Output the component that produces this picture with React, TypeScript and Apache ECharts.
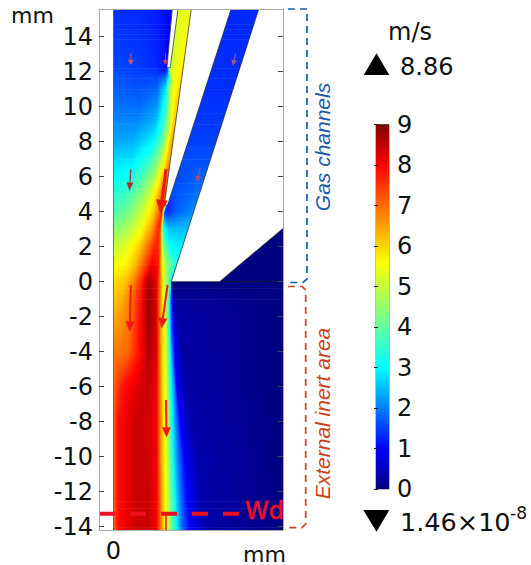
import React, { useEffect, useRef } from "react";
import * as echarts from "echarts";

const yTicks = [-14, -12, -10, -8, -6, -4, -2, 0, 2, 4, 6, 8, 10, 12, 14];
const xTicks = [0];
const speedTicks = [0, 1, 2, 3, 4, 5, 6, 7, 8, 9];
const maxLabel = "8.86";
const minLabel = "1.46×10";
const minExponent = "-8";

const colorKnots: [number, number[]][] = [
  [0, [0, 0, 128]],
  [1, [0, 0, 255]],
  [3, [0, 255, 255]],
  [5.6, [255, 255, 0]],
  [8, [255, 0, 0]],
  [9, [128, 0, 0]],
];

// Rows of the speed field: y (mm), then x (mm) and speed (m/s) at each stop.
const rowY = [15.7, 12.3, 12, 11, 10, 9, 8, 7, 6, 5, 4, 3, 2, 1, 0, -1, -2, -4, -6, -8, -10, -12, -14.3];
const rowX = [
  [0, 1.5, 2.5, 3.0, 3.3, 3.7, 4.45, 4.7, 6.76, 7, 7.6, 8.34, 8.6, 9.71],
  [0, 1.5, 2.5, 2.9, 3.05, 3.24, 4.02, 4.3, 5.65, 5.8, 6.5, 7.27, 7.5, 9.71],
  [0, 1.5, 2.5, 2.9, 3.08, 3.25, 3.98, 4.3, 5.56, 5.7, 6.4, 7.18, 7.4, 9.71],
  [0, 1.5, 2.5, 3.05, 3.2, 3.55, 3.83, 4.2, 5.24, 5.4, 6.1, 6.86, 7.1, 9.71],
  [0, 1.5, 2.5, 3, 3.25, 3.5, 3.69, 4, 4.91, 5.1, 5.8, 6.53, 6.8, 9.71],
  [0, 1.3, 2.4, 2.9, 3.2, 3.4, 3.54, 3.9, 4.59, 4.8, 5.5, 6.21, 6.5, 9.71],
  [0, 1.14, 2.29, 2.76, 3.05, 3.25, 3.4, 3.7, 4.27, 4.5, 5.2, 5.89, 6.1, 9.71],
  [0, 1.1, 2, 2.5, 2.9, 3.1, 3.24, 3.5, 3.94, 4.1, 4.8, 5.56, 5.8, 9.71],
  [0, 0.95, 1.9, 2.4, 2.76, 2.95, 3.1, 3.3, 3.62, 3.8, 4.4, 5.24, 5.5, 9.71],
  [0, 0.76, 1.52, 2.1, 2.48, 2.76, 2.98, 3.1, 3.3, 3.4, 3.8, 4.9, 5.2, 9.71],
  [0, 0.76, 1.52, 2.29, 2.6, 2.76, 2.85, 2.88, 2.92, 3.05, 3.5, 4.59, 4.8, 9.71],
  [0, 0.76, 1.5, 2.2, 2.45, 2.6, 2.72, 2.78, 2.83, 3.1, 3.6, 4.27, 4.5, 9.71],
  [0, 0.76, 1.5, 2.1, 2.4, 2.57, 2.72, 2.78, 2.85, 3.2, 3.6, 3.94, 4.2, 9.71],
  [0, 0.76, 1.3, 1.9, 2.2, 2.57, 2.72, 2.8, 3.0, 3.4, 3.6, 3.8, 4, 9.71],
  [0, 0.76, 1.2, 1.52, 2, 2.48, 2.72, 2.95, 3.15, 3.28, 3.3, 3.31, 3.32, 9.71],
  [0, 0.5, 1, 1.5, 2, 2.45, 2.72, 2.9, 3.1, 3.2, 3.27, 3.33, 3.5, 9.71],
  [0, 0.5, 1.0, 1.5, 2.0, 2.45, 2.72, 2.92, 3.05, 3.2, 3.28, 3.4, 3.62, 9.71],
  [0, 0.3, 0.8, 1.4, 2.0, 2.45, 2.74, 2.95, 3.08, 3.25, 3.35, 3.5, 3.9, 9.71],
  [0, 0.2, 0.6, 1.3, 1.95, 2.45, 2.74, 2.95, 3.12, 3.3, 3.5, 3.6, 4.1, 9.71],
  [0, 0.2, 0.6, 1.3, 1.8, 2.45, 2.74, 2.95, 3.15, 3.35, 3.6, 3.8, 4.4, 9.71],
  [0, 0.2, 0.6, 1.3, 1.9, 2.45, 2.74, 2.95, 3.18, 3.4, 3.7, 4.05, 4.8, 9.71],
  [0, 0.2, 0.6, 1.3, 2.0, 2.45, 2.75, 2.97, 3.2, 3.5, 3.8, 4.2, 5.0, 9.71],
  [0, 0.2, 0.6, 1.3, 2.0, 2.45, 2.78, 2.98, 3.24, 3.6, 3.9, 4.38, 5.2, 9.71],
];
const rowV = [
  [1.35, 1.3, 1.2, 1.1, 1.0, 5.3, 5.4, 3, 1.3, 1.3, 1.3, 1.3, 1.3, 0],
  [1.55, 1.45, 1.3, 1.1, 0.9, 5.0, 5.8, 3, 1.35, 1.35, 1.35, 1.35, 1.35, 0],
  [1.6, 1.5, 1.4, 1.2, 1.6, 5.2, 5.9, 3, 1.35, 1.35, 1.35, 1.35, 1.35, 0],
  [1.75, 1.65, 1.8, 3, 5, 5.6, 6.1, 3, 1.35, 1.35, 1.35, 1.35, 1.35, 0],
  [1.9, 1.85, 2.2, 3.5, 5, 5.9, 6.2, 3, 1.4, 1.4, 1.4, 1.4, 1.4, 0],
  [2.1, 2.1, 2.5, 3.6, 5, 6, 6.3, 3, 1.45, 1.45, 1.45, 1.45, 1.45, 0],
  [2.3, 2.4, 3, 3.9, 5.1, 6.2, 6.5, 3, 1.5, 1.5, 1.5, 1.5, 1.5, 0],
  [2.7, 2.8, 3.4, 4.2, 5.4, 6.2, 6.6, 4, 1.6, 1.6, 1.6, 1.6, 1.6, 0],
  [3.0, 3.15, 4, 4.8, 6, 6.6, 7, 5, 1.6, 1.6, 1.7, 1.8, 1.8, 0],
  [3.4, 3.6, 4.3, 5.1, 6, 7, 7.6, 5, 1.6, 1.6, 1.7, 1.9, 1.9, 0],
  [3.8, 4.1, 4.9, 6, 7, 7.7, 6, 4, 1.5, 1.2, 1.7, 2.1, 2.1, 0],
  [4.4, 4.7, 5.4, 6.6, 7.4, 7.7, 6.8, 5, 3.4, 2.6, 2.5, 2.5, 2.5, 0],
  [5.0, 5.3, 6.1, 7.2, 7.7, 7.6, 6.5, 5.5, 4.3, 3.1, 2.9, 2.9, 2.9, 0],
  [5.5, 5.7, 6.3, 7.5, 8.1, 7.8, 6.3, 5.5, 4.6, 3.6, 3.3, 3, 3, 0],
  [5.9, 6.2, 6.9, 7.5, 8.7, 8.1, 6.5, 5, 4, 3.5, 2, 0.5, 0, 0],
  [6.1, 6.4, 6.9, 7.8, 8.8, 8.3, 6.3, 5.2, 4.2, 3, 1.9, 1, 0.2, 0],
  [6.4, 6.6, 7.0, 7.9, 8.8, 8.3, 6.3, 5.5, 4.5, 3, 1.9, 1, 0.3, 0],
  [6.8, 6.9, 7.0, 7.8, 8.6, 8.3, 6.2, 5.5, 4.5, 3, 1.9, 1, 0.3, 0],
  [7.0, 7.4, 7.9, 8.2, 8.45, 8.15, 6.3, 5.5, 4.5, 3, 1.9, 1, 0.3, 0],
  [7.0, 7.8, 8.1, 8.4, 8.4, 8.1, 6.4, 5.5, 4.5, 3, 1.9, 1, 0.35, 0],
  [7.0, 7.8, 8.1, 8.4, 8.4, 8.1, 6.4, 5.5, 4.5, 3, 1.9, 1, 0.35, 0],
  [7.0, 7.8, 8.1, 8.4, 8.4, 8.1, 6.5, 5.5, 4.5, 3, 1.9, 1, 0.35, 0],
  [7.0, 7.8, 8.1, 8.4, 8.4, 8.1, 6.5, 5.5, 4.5, 3, 1.9, 1, 0.35, 0],
];

// Geometry of the walls, in mm.
const slitWall = [[3.37, 15.7], [3.70, 15.7], [3.24, 12.23], [3.05, 12.23]];
const middleWall = [[4.46, 15.7], [6.76, 15.7], [3.09, 4.38], [2.90, 4.38]];
const outerWall = [[8.34, 15.7], [9.8, 15.7], [9.8, 3.14], [6.06, 0], [3.30, 0]];
const outerBlock = [[9.8, 3.14], [9.8, 0], [6.06, 0]];

// Velocity arrows: x0, y0, x1, y1, width, colour
const arrows: [number, number, number, number, number, string][] = [
  [0.99, 13.05, 0.99, 12.38, 1, "#c85a70"],
  [2.97, 13.05, 2.97, 12.38, 1, "#c04060"],
  [6.99, 13.05, 6.82, 12.34, 1, "#9a5a90"],
  [0.99, 6.42, 0.91, 5.2, 1.3, "#b03030"],
  [3.0, 6.42, 2.67, 3.9, 3, "#f01808"],
  [4.95, 6.48, 4.76, 5.66, 1, "#a05088"],
  [0.99, -0.19, 0.93, -2.86, 2, "#f01818"],
  [3.09, -0.19, 2.74, -2.67, 2, "#f01818"],
  [3.0, -6.76, 3.03, -8.91, 2, "#f01818"],
];
const wdY = -13.26;
const wdLine = [[-0.83, wdY], [7.2, wdY]];
const wdStub = [[3.0, -13.3], [3.0, -14.2]];

const X_MIN = -0.829;
const X_MAX = 9.686;
const Y_MIN = -14.19;
const Y_MAX = 15.58;
const FONT = "DejaVu Sans";

function speedColor(v: number): string {
  for (let i = 1; i < colorKnots.length; i++) {
    if (v <= colorKnots[i][0]) {
      const [a, ca] = colorKnots[i - 1];
      const [b, cb] = colorKnots[i];
      const t = Math.max(0, (v - a) / (b - a));
      const c = ca.map((n, j) => Math.round(n + (cb[j] - n) * t));
      return `rgb(${c[0]},${c[1]},${c[2]})`;
    }
  }
  return "rgb(128,0,0)";
}

function renderField(params: any, api: any) {
  const i = params.dataIndex;
  const p0 = api.coord([0, rowY[i]]);
  const p1 = api.coord([0, rowY[i + 1]]);
  const n = Math.max(1, Math.ceil((p1[1] - p0[1]) / 2.5));
  const xEnd = rowX[i][rowX[i].length - 1];
  const left = p0[0];
  const right = api.coord([xEnd, 0])[0];
  const children: any[] = [];
  for (let s = 0; s < n; s++) {
    const t = (s + 0.5) / n;
    const xs = rowX[i].map((x, k) => x + (rowX[i + 1][k] - x) * t);
    const vs = rowV[i].map((v, k) => v + (rowV[i + 1][k] - v) * t);
    const colorStops: any[] = [];
    for (let k = 0; k < xs.length - 1; k++) {
      for (let j = 0; j < 3; j++) {
        const f = j / 3;
        colorStops.push({
          offset: (xs[k] + (xs[k + 1] - xs[k]) * f) / xEnd,
          color: speedColor(vs[k] + (vs[k + 1] - vs[k]) * f),
        });
      }
    }
    colorStops.push({ offset: 1, color: speedColor(vs[vs.length - 1]) });
    const h = (p1[1] - p0[1]) / n;
    children.push({
      type: "rect",
      shape: { x: left, y: p0[1] + s * h, width: right - left, height: h + 0.6 },
      style: { fill: { type: "linear", x: 0, y: 0, x2: 1, y2: 0, colorStops } },
    });
  }
  return { type: "group", children };
}

function renderWalls(_: any, api: any) {
  const poly = (pts: number[][], fill: string) => ({
    type: "polygon",
    shape: { points: pts.map((p) => api.coord(p)) },
    style: { fill, stroke: "#222", lineWidth: 0.7 },
  });
  return {
    type: "group",
    children: [
      poly(outerBlock, "#000080"),
      poly(slitWall, "#fff"),
      poly(middleWall, "#fff"),
      poly(outerWall, "#fff"),
      {
        type: "line",
        shape: (() => {
          const a = api.coord([0, Y_MAX]);
          const b = api.coord([0, Y_MIN]);
          return { x1: a[0], y1: a[1], x2: b[0], y2: b[1] };
        })(),
        style: { stroke: "#555", lineWidth: 0.8 },
      },
    ],
  };
}

function renderArrow(params: any, api: any) {
  const [x0, y0, x1, y1, w, color] = arrows[params.dataIndex];
  const a = api.coord([x0, y0]);
  const b = api.coord([x1, y1]);
  const dx = b[0] - a[0];
  const dy = b[1] - a[1];
  const len = Math.hypot(dx, dy);
  const ux = dx / len;
  const uy = dy / len;
  const headL = Math.min(len * 0.45, 4 + w * 3.2);
  const headW = 1.5 + w * 1.5;
  const bx = b[0] - ux * headL;
  const by = b[1] - uy * headL;
  return {
    type: "group",
    children: [
      { type: "line", shape: { x1: a[0], y1: a[1], x2: bx, y2: by }, style: { stroke: color, lineWidth: w } },
      {
        type: "polygon",
        shape: {
          points: [
            [b[0], b[1]],
            [bx - uy * headW, by + ux * headW],
            [bx + uy * headW, by - ux * headW],
          ],
        },
        style: { fill: color },
      },
    ],
  };
}

function renderWd(_: any, api: any) {
  const seg = (pts: number[][], dash: number[] | undefined, w: number) => {
    const a = api.coord(pts[0]);
    const b = api.coord(pts[1]);
    return {
      type: "line",
      shape: { x1: a[0], y1: a[1], x2: b[0], y2: b[1] },
      style: { stroke: "#ee1020", lineWidth: w, lineDash: dash },
    };
  };
  return { type: "group", children: [seg(wdLine, [16, 15], 4), seg(wdStub, undefined, 1.5)] };
}

function renderColorbar(_: any, api: any) {
  const a = api.coord([0, 9]);
  const b = api.coord([1, 0]);
  const colorStops = colorKnots.map(([v]) => ({ offset: 1 - v / 9, color: speedColor(v) })).reverse();
  return {
    type: "rect",
    shape: { x: a[0], y: a[1], width: b[0] - a[0], height: b[1] - a[1] },
    style: { fill: { type: "linear", x: 0, y: 0, x2: 0, y2: 1, colorStops } },
  };
}

export default function App() {
  const ref = useRef<HTMLDivElement>(null);
  useEffect(() => {
    const chart = echarts.init(ref.current!, null, { renderer: "svg" });
    const tick = { inside: true, length: 5, lineStyle: { color: "#444", width: 1 } };
    const frame = { show: true, onZero: false, lineStyle: { color: "#aaa", width: 1 } };
    const custom = (renderItem: any, count: number, z: number) => ({
      type: "custom",
      xAxisIndex: 0,
      yAxisIndex: 0,
      clip: true,
      z,
      renderItem,
      silent: true,
      data: Array.from({ length: count }, (_, i) => [0, i]),
    });
    chart.setOption({
      animation: false,
      backgroundColor: "#fff",
      grid: [
        { left: 99, top: 9, width: 184, height: 521 },
        { left: 376, top: 124.5, width: 13, height: 364.5, show: true, borderColor: "#777", borderWidth: 1 },
      ],
      xAxis: [
        {
          type: "value",
          gridIndex: 0,
          z: 10,
          min: X_MIN,
          max: X_MAX,
          position: "bottom",
          splitLine: { show: false },
          axisLine: frame,
          axisTick: { show: false },
          axisLabel: { customValues: xTicks, fontFamily: FONT, fontSize: 24, color: "#111", margin: 9 },
        },
        {
          type: "value",
          gridIndex: 0,
          z: 10,
          min: X_MIN,
          max: X_MAX,
          position: "top",
          splitLine: { show: false },
          axisLine: frame,
          axisTick: { show: false },
          axisLabel: { show: false },
        },
        { type: "value", gridIndex: 1, min: 0, max: 1, show: false },
      ],
      yAxis: [
        {
          type: "value",
          gridIndex: 0,
          z: 10,
          min: Y_MIN,
          max: Y_MAX,
          position: "left",
          splitLine: { show: false },
          axisLine: frame,
          axisTick: { ...tick, customValues: yTicks },
          axisLabel: { customValues: yTicks, fontFamily: FONT, fontSize: 24, color: "#111", margin: 6 },
        },
        {
          type: "value",
          gridIndex: 0,
          z: 10,
          min: Y_MIN,
          max: Y_MAX,
          position: "right",
          splitLine: { show: false },
          axisLine: frame,
          axisTick: { ...tick, customValues: yTicks },
          axisLabel: { show: false },
        },
        {
          type: "value",
          gridIndex: 1,
          z: 10,
          min: 0,
          max: 9,
          interval: 1,
          position: "right",
          splitLine: { show: false },
          axisLine: { show: false },
          axisTick: { inside: true, length: 2, lineStyle: { color: "#222" } },
          axisLabel: { customValues: speedTicks, fontFamily: FONT, fontSize: 24, color: "#111", margin: 8 },
        },
        {
          type: "value",
          gridIndex: 1,
          z: 10,
          min: 0,
          max: 9,
          interval: 1,
          position: "left",
          splitLine: { show: false },
          axisLine: { show: false },
          axisTick: { inside: true, length: 2, lineStyle: { color: "#222" } },
          axisLabel: { show: false },
        },
      ],
      series: [
        custom(renderField, rowY.length - 1, 2),
        custom(renderWalls, 1, 3),
        custom(renderArrow, arrows.length, 4),
        custom(renderWd, 1, 5),
        {
          type: "custom",
          xAxisIndex: 2,
          yAxisIndex: 2,
          z: 2,
          silent: true,
          renderItem: renderColorbar,
          data: [[0, 0]],
        },
      ],
      graphic: [
        { type: "text", z: 100, x: 11, y: 4, style: { text: "mm", font: `22px "${FONT}"`, fill: "#111" } },
        { type: "text", z: 100, x: 243, y: 543, style: { text: "mm", font: `22px "${FONT}"`, fill: "#111" } },
        {
          type: "text",
          z: 100,
          x: 245,
          y: 499,
          style: { text: "Wd", font: `24px "${FONT}"`, fill: "#ee1020", stroke: "#ee1020", lineWidth: 0.6 },
        },
        { type: "text", z: 100, x: 388, y: 20, style: { text: "m/s", font: `24px "${FONT}"`, fill: "#111" } },
        { type: "text", z: 100, x: 400, y: 55, style: { text: maxLabel, font: `24px "${FONT}"`, fill: "#111" } },
        { type: "text", z: 100, x: 400, y: 509, style: { text: minLabel, font: `25.5px "${FONT}"`, fill: "#111" } },
        { type: "text", z: 100, x: 510, y: 504, style: { text: minExponent, font: `17px "${FONT}"`, fill: "#111" } },
        { type: "polygon", z: 100, shape: { points: [[363.7, 75], [389.3, 75], [376.5, 53.3]] }, style: { fill: "#000" } },
        { type: "polygon", z: 100, shape: { points: [[363.3, 510], [389.3, 510], [376.5, 531.7]] }, style: { fill: "#000" } },
        {
          type: "polyline",
          z: 100,
          shape: { points: [[288, 9], [307, 9], [307, 279], [303, 282.5], [288, 282.5]] },
          style: { stroke: "#1a5ca8", lineWidth: 1.7, lineDash: [7, 5], fill: "none" },
        },
        {
          type: "polyline",
          z: 100,
          shape: { points: [[288, 286.5], [302, 286.5], [305.7, 290], [305.7, 524], [302, 527.7], [288, 527.7]] },
          style: { stroke: "#c8431a", lineWidth: 1.7, lineDash: [7, 5], fill: "none" },
        },
        {
          type: "text",
          z: 100,
          x: 322,
          y: 147,
          rotation: Math.PI / 2,
          style: {
            text: "Gas channels",
            font: `italic 21px "Liberation Sans"`,
            fill: "#1a5ca8",
            align: "center",
            verticalAlign: "middle",
          },
        },
        {
          type: "text",
          z: 100,
          x: 322,
          y: 413.5,
          rotation: Math.PI / 2,
          style: {
            text: "External inert area",
            font: `italic 21px "Liberation Sans"`,
            fill: "#c8431a",
            align: "center",
            verticalAlign: "middle",
          },
        },
      ],
    });
    return () => chart.dispose();
  }, []);
  return <div ref={ref} style={{ position: "absolute", left: 0, top: 0, width: 531, height: 565 }} />;
}
